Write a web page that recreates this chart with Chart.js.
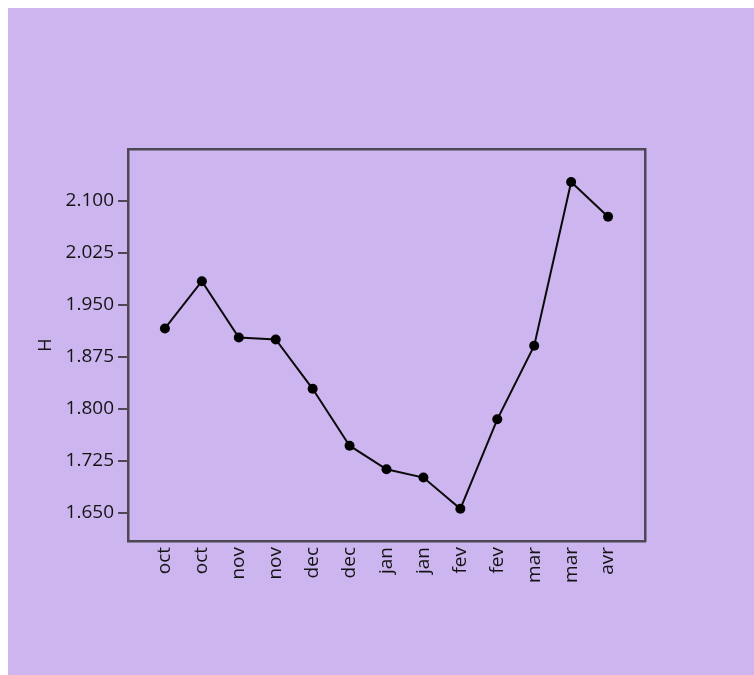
<!DOCTYPE html>
<html>
<head>
<meta charset="utf-8">
<script src="https://cdn.jsdelivr.net/npm/chart.js@4/dist/chart.umd.min.js"></script>
<style>
  html, body { margin: 0; padding: 0; background: #ffffff; overflow: hidden; }
  #wrap { position: absolute; left: 8px; top: 8px; width: 746px; height: 667px; background: #cdb5f0; }
</style>
</head>
<body>
<div id="wrap"><canvas id="c"></canvas></div>
<script>
const categories = ['oct', 'oct', 'nov', 'nov', 'dec', 'dec', 'jan', 'jan', 'fev', 'fev', 'mar', 'mar', 'avr'];
const hValues = [1.916, 1.984, 1.903, 1.900, 1.829, 1.747, 1.713, 1.701, 1.656, 1.785, 1.891, 2.127, 2.077];
const yTickValues = [1.650, 1.725, 1.800, 1.875, 1.950, 2.025, 2.100];
const yTickLabels = ['1.650', '1.725', '1.800', '1.875', '1.950', '2.025', '2.100'];
const yAxisTitle = 'H';

const FONT = '"Open Sans", "Noto Sans", sans-serif';
const FRAME = '#4d4853';
const TEXT = '#141414';

const points = hValues.map((v, i) => ({ x: i + 1, y: v }));

new Chart(document.getElementById('c'), {
  type: 'line',
  data: {
    datasets: [{
      data: points,
      borderColor: '#0a0a0a',
      borderWidth: 2,
      backgroundColor: '#000000',
      pointBackgroundColor: '#000000',
      pointBorderColor: '#000000',
      pointBorderWidth: 0,
      pointRadius: 5,
      tension: 0,
      fill: false
    }]
  },
  options: {
    responsive: true,
    maintainAspectRatio: false,
    animation: false,
    layout: { padding: { left: 23, top: 141, right: 109, bottom: 0 } },
    plugins: { legend: { display: false }, tooltip: { enabled: false } },
    scales: {
      x: {
        type: 'linear',
        position: 'bottom',
        min: 0,
        max: categories.length + 1,
        afterBuildTicks: (scale) => { scale.ticks = categories.map((c, i) => ({ value: i + 1 })); },
        afterFit: (scale) => { scale.height = 134; },
        grid: { display: false, drawTicks: false },
        border: { display: true, color: FRAME, width: 2.5 },
        ticks: {
          autoSkip: false,
          minRotation: 90,
          maxRotation: 90,
          padding: 6,
          color: TEXT,
          font: { family: FONT, size: 19 },
          callback: (value) => categories[Math.round(value) - 1] ?? ''
        }
      },
      x2: {
        type: 'linear',
        position: 'top',
        min: 0,
        max: categories.length + 1,
        afterFit: (scale) => { scale.height = 0; },
        grid: { display: false, drawTicks: false },
        border: { display: true, color: FRAME, width: 2.5 },
        ticks: { display: false }
      },
      y: {
        type: 'linear',
        position: 'left',
        min: 1.6096,
        max: 2.1746,
        afterBuildTicks: (scale) => { scale.ticks = yTickValues.map(v => ({ value: v })); },
        afterFit: (scale) => { scale.width = 97; },
        grid: { display: true, drawOnChartArea: false, drawTicks: true, tickLength: 10, color: FRAME, tickColor: FRAME, tickWidth: 2, lineWidth: 2 },
        border: { display: true, color: FRAME, width: 2.5 },
        title: { display: true, text: yAxisTitle, color: TEXT, font: { family: FONT, size: 18 }, padding: { top: 4, bottom: 4 } },
        ticks: {
          padding: 4,
          color: TEXT,
          font: { family: FONT, size: 19 },
          callback: (value) => {
            const idx = yTickValues.findIndex(v => Math.abs(v - value) < 1e-6);
            return idx >= 0 ? yTickLabels[idx] : '';
          }
        }
      },
      y2: {
        type: 'linear',
        position: 'right',
        min: 1.6096,
        max: 2.1746,
        afterFit: (scale) => { scale.width = 0; },
        grid: { display: false, drawTicks: false },
        border: { display: true, color: FRAME, width: 2.5 },
        ticks: { display: false }
      }
    }
  }
});
</script>
</body>
</html>
